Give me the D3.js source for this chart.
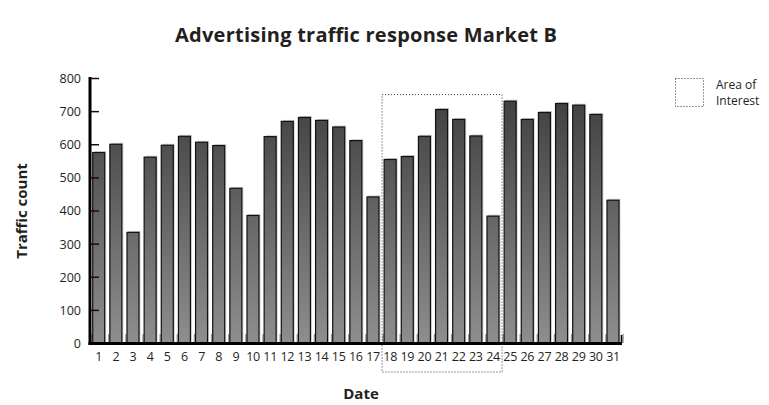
<!DOCTYPE html>
<html>
<head>
<meta charset="utf-8">
<script src="https://cdn.jsdelivr.net/npm/d3@7"></script>
<style>
    body { margin: 0; background: #fff; }
    text { font-family: "Open Sans", "Noto Sans", sans-serif; fill: #231f20; }
</style>
</head>
<body>
<svg id="chart" width="769" height="405"></svg>
<script>
// days of the month and traffic counts
const days = d3.range(1, 32).map(String);
const traffic = [575, 600, 334, 561, 597, 624, 606, 596, 467, 385,
                 623, 669, 681, 672, 652, 611, 441, 554, 563, 624,
                 705, 675, 625, 383, 730, 675, 696, 723, 718, 690, 431];
const yTicks = [0, 100, 200, 300, 400, 500, 600, 700, 800];
const interestDays = ["18", "24"];

const svg = d3.select('#chart');

const x = d3.scaleBand()
    .domain(days)
    .range([91, 620.7])
    .paddingInner(0.3)
    .paddingOuter(0.1);

const y = d3.scaleLinear()
    .domain([0, 800])
    .range([343, 78]);

// gradient spans the whole plot height so short bars start lighter
const defs = svg.append("defs");
const grad = defs.append("linearGradient")
    .attr("id", "barGrad")
    .attr("gradientUnits", "userSpaceOnUse")
    .attr("x1", 0).attr("x2", 0)
    .attr("y1", y(800)).attr("y2", y(0));
grad.append("stop").attr("offset", 0).attr("stop-color", "#3a3a3a");
grad.append("stop").attr("offset", 1).attr("stop-color", "#8e8e8e");

const data = days.map((d, i) => ({ day: d, value: traffic[i] }));
const gap = x.step() - x.bandwidth();

// small ticks at the band boundaries (sit behind the bars)
svg.append("g")
    .selectAll("line")
    .data(d3.range(days.length + 1))
    .enter()
    .append("line")
    .attr("x1", i => x.range()[0] + x.step() * x.paddingOuter() + i * x.step() - gap / 2 + 1.5)
    .attr("x2", i => x.range()[0] + x.step() * x.paddingOuter() + i * x.step() - gap / 2 + 1.5)
    .attr("y1", y(0))
    .attr("y2", y(0) - 9)
    .attr("stroke", "#999")
    .attr("stroke-width", 1.5);

// light shadow behind each bar
svg.append("g")
    .selectAll("rect")
    .data(data)
    .enter()
    .append("rect")
    .attr("x", d => x(d.day) + 1.5)
    .attr("y", d => y(d.value) - 1.5)
    .attr("width", x.bandwidth())
    .attr("height", d => y(0) - y(d.value))
    .attr("fill", "#cfcfcf");

svg.append("g")
    .selectAll("rect")
    .data(data)
    .enter()
    .append("rect")
    .attr("x", d => x(d.day))
    .attr("y", d => y(d.value))
    .attr("width", x.bandwidth())
    .attr("height", d => y(0) - y(d.value))
    .attr("fill", "url(#barGrad)")
    .attr("stroke", "#111")
    .attr("stroke-width", 1.2);

// y axis
const yAxis = svg.append("g")
    .attr("transform", "translate(90,0)")
    .call(d3.axisRight(y).tickValues(yTicks).tickSize(9).tickFormat(d => d));
yAxis.select(".domain").remove();
yAxis.selectAll(".tick line").attr("stroke", "#111").attr("stroke-width", 1.5);
yAxis.selectAll(".tick text")
    .attr("x", -9)
    .attr("text-anchor", "end")
    .attr("dy", "0.35em")
    .style("font-size", "12.5px");
svg.append("line")
    .attr("x1", 90).attr("x2", 90)
    .attr("y1", y(800) - 1).attr("y2", y(0) + 2)
    .attr("stroke", "#000").attr("stroke-width", 3);

// x axis
const xAxis = svg.append("g")
    .attr("transform", `translate(0,${y(0)})`)
    .call(d3.axisBottom(x).tickSize(0).tickPadding(9));
xAxis.select(".domain").remove();
xAxis.selectAll(".tick text").style("font-size", "12.5px").attr("letter-spacing", "-0.3px");
svg.append("line")
    .attr("x1", 88.5).attr("x2", 622)
    .attr("y1", y(0) + 0.5).attr("y2", y(0) + 0.5)
    .attr("stroke", "#000").attr("stroke-width", 3);
svg.append("line")
    .attr("x1", 621.5).attr("x2", 621.5)
    .attr("y1", y(0)).attr("y2", y(0) - 8)
    .attr("stroke", "#000").attr("stroke-width", 1.5);

// area of interest box
const left = x(interestDays[0]) - gap / 2 + 0.5;
const right = x(interestDays[1]) + x.bandwidth() + gap / 2 + 0.5;
svg.append("rect")
    .attr("x", left)
    .attr("y", y(750))
    .attr("width", right - left)
    .attr("height", y(0) + 29 - y(750))
    .attr("fill", "none")
    .attr("stroke", "#333")
    .attr("stroke-width", 1)
    .attr("stroke-dasharray", "1,2");

// legend
svg.append("rect")
    .attr("x", 675.5).attr("y", 78.5)
    .attr("width", 28).attr("height", 28)
    .attr("fill", "none")
    .attr("stroke", "#333")
    .attr("stroke-dasharray", "1,2");
svg.append("text").attr("x", 716).attr("y", 89).style("font-size", "12px").text("Area of");
svg.append("text").attr("x", 716).attr("y", 105).style("font-size", "12px").text("Interest");

// titles
svg.append("text")
    .attr("x", 366).attr("y", 42)
    .attr("text-anchor", "middle")
    .style("font-size", "20px").style("font-weight", "bold")
    .attr("textLength", 382)
    .text("Advertising traffic response Market B");

svg.append("text")
    .attr("x", 361).attr("y", 399)
    .attr("text-anchor", "middle")
    .style("font-size", "15px").style("font-weight", "bold")
    .text("Date");

svg.append("text")
    .attr("transform", "translate(27,211) rotate(-90)")
    .attr("text-anchor", "middle")
    .style("font-size", "15px").style("font-weight", "bold")
    .text("Traffic count");
</script>
</body>
</html>
